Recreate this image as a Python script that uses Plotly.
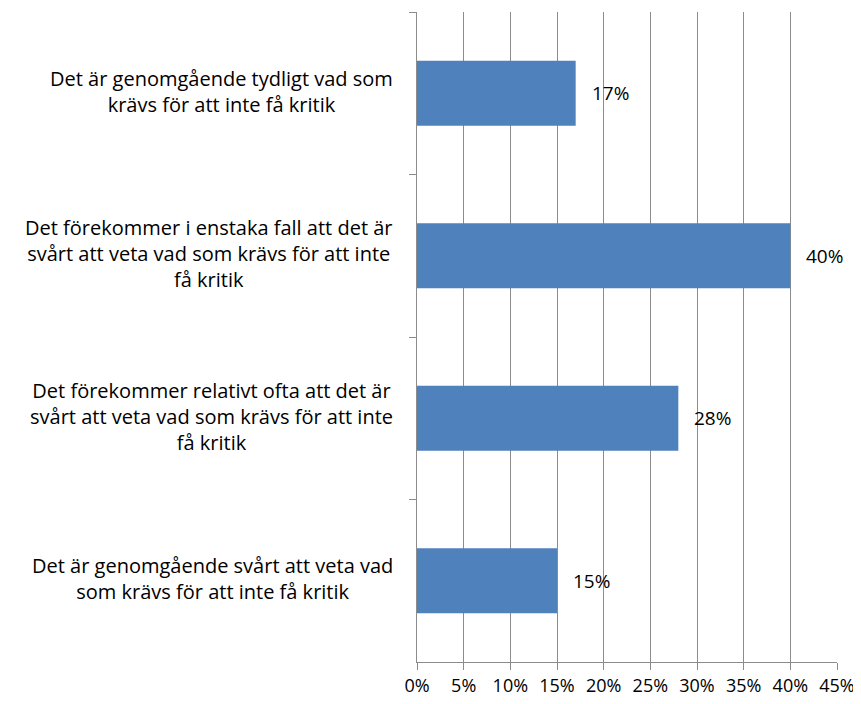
import plotly.graph_objs as go

categories = [
    'Det är genomgående tydligt vad som<br>krävs för att inte få kritik',
    'Det förekommer i enstaka fall att det är<br>svårt att veta vad som krävs för att inte<br>få kritik',
    'Det förekommer relativt ofta att det är<br>svårt att veta vad som krävs för att inte<br>få kritik',
    'Det är genomgående svårt att veta vad<br>som krävs för att inte få kritik',
]
values = [0.17, 0.40, 0.28, 0.15]
value_labels = ['17%', '40%', '28%', '15%']
tick_vals = [0, 0.05, 0.10, 0.15, 0.20, 0.25, 0.30, 0.35, 0.40, 0.45]
tick_text = ['0%', '5%', '10%', '15%', '20%', '25%', '30%', '35%', '40%', '45%']

font_family = 'Open Sans, sans-serif'
font_size = 20
grid_grey = '#8c8c8c'

fig = go.Figure()

bar = go.Bar(x=values,
             y=categories,
             orientation='h',
             width=0.4,
             marker={'color': '#4F81BD', 'line': {'width': 0}},
             hoverinfo='x+y')
fig.add_trace(bar)

annotations = []
# category labels, centered lines in a box left of the axis
for cat in categories:
    annotations.append(dict(x=0, y=cat, xref='x', yref='y',
                            text=cat, showarrow=False,
                            xanchor='right', align='center',
                            xshift=-22, yshift=2,
                            font={'family': font_family, 'size': font_size, 'color': '#000000'}))
# value labels
for cat, val, lab in zip(categories, values, value_labels):
    annotations.append(dict(x=val, y=cat, xref='x', yref='y',
                            text=lab, showarrow=False,
                            xanchor='left', xshift=14,
                            font={'family': font_family, 'size': 19, 'color': '#000000'}))

# page body has an 8px margin, so the figure is 16px smaller than the window
fig.layout.update(
    width=853, height=696,
    margin={'l': 409, 'r': 24, 't': 4, 'b': 42, 'autoexpand': False},
    plot_bgcolor='rgba(0,0,0,0)',
    paper_bgcolor='white',
    showlegend=False,
    font={'family': font_family, 'size': font_size, 'color': '#000000'},
    xaxis={'range': [0, 0.45],
           'tickvals': tick_vals, 'ticktext': tick_text,
           'showgrid': True, 'gridcolor': grid_grey, 'gridwidth': 1,
           'zeroline': False, 'automargin': False,
           'showline': True, 'linecolor': grid_grey, 'linewidth': 1,
           'ticks': 'outside', 'ticklen': 7, 'tickcolor': grid_grey,
           'tickfont': {'family': font_family, 'size': 18}},
    yaxis={'autorange': 'reversed', 'automargin': False,
           'showticklabels': False,
           'showgrid': False, 'zeroline': False,
           'showline': True, 'linecolor': grid_grey, 'linewidth': 1,
           'ticks': 'outside', 'tickson': 'boundaries', 'ticklen': 7,
           'tickcolor': grid_grey},
    annotations=annotations,
)

fig.write_html('out.html')
